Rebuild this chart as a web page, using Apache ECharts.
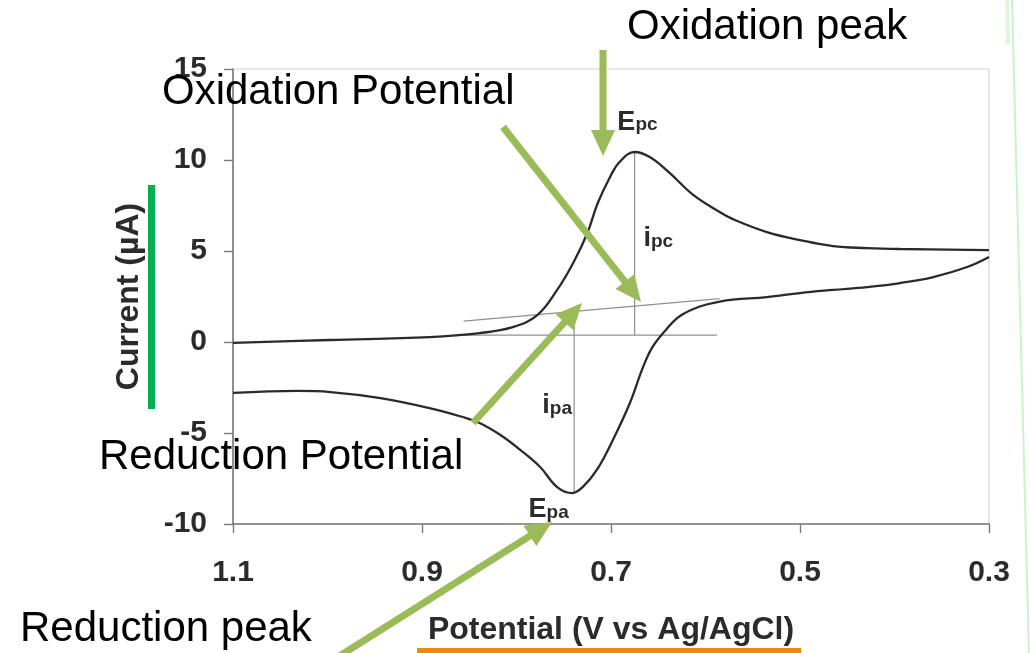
<!DOCTYPE html>
<html><head><meta charset="utf-8">
<script src="https://cdn.jsdelivr.net/npm/echarts@6/dist/echarts.min.js"></script>
<style>html,body{margin:0;padding:0;background:#fff;} #c{width:1030px;height:653px;}</style>
</head><body><div id="c"></div>
<script>
// ---- data ----
const xTicks = [1.1, 0.9, 0.7, 0.5, 0.3];
const yTicks = [-10, -5, 0, 5, 10, 15];
// forward branch (scan 1.1 -> 0.3 V)
const upperV = [1.100, 0.997, 0.892, 0.839, 0.804, 0.778, 0.757, 0.740, 0.725, 0.714, 0.701, 0.691, 0.675, 0.659, 0.638, 0.613, 0.585, 0.571, 0.535, 0.500, 0.465, 0.429, 0.394, 0.300];
const upperI = [-0.05, 0.11, 0.27, 0.49, 0.82, 1.48, 2.86, 4.34, 5.99, 7.64, 9.07, 9.89, 10.44, 10.16, 9.29, 8.08, 7.14, 6.75, 6.04, 5.60, 5.27, 5.16, 5.11, 5.05];
// return branch (scan 0.3 -> 1.1 V)
const lowerV = [0.300, 0.323, 0.359, 0.394, 0.429, 0.465, 0.500, 0.535, 0.571, 0.585, 0.606, 0.627, 0.641, 0.656, 0.666, 0.680, 0.698, 0.715, 0.730, 0.741, 0.757, 0.775, 0.796, 0.817, 0.839, 0.857, 0.892, 0.944, 0.997, 1.032, 1.100];
const lowerI = [4.67, 4.12, 3.57, 3.24, 3.02, 2.86, 2.69, 2.47, 2.33, 2.22, 1.95, 1.43, 0.72, -0.27, -1.37, -3.35, -5.38, -7.03, -7.97, -8.30, -7.97, -6.87, -5.93, -5.11, -4.45, -4.12, -3.63, -3.08, -2.75, -2.69, -2.80];
// construction lines
const baseFlatV = [0.860, 0.588];
const baseFlatI = [0.38, 0.38];
const baseSlopeV = [0.856, 0.585];
const baseSlopeI = [1.15, 2.38];
const epcLineV = [0.675, 0.675];
const epcLineI = [10.44, 0.38];
const epaLineV = [0.739, 0.739];
const epaLineI = [-8.30, 1.67];
// peak labels
const peakMain = ['E', 'i', 'i', 'E'];
const peakSub = ['pc', 'pc', 'pa', 'pa'];
const peakLabelV = [0.672, 0.650, 0.757, 0.766];
const peakLabelI = [12.0, 5.6, -3.6, -9.3];
// annotations
const annotations = ['Oxidation peak', 'Oxidation Potential', 'Reduction Potential', 'Reduction peak'];
const xTitle = 'Potential (V vs Ag/AgCl)';
const yTitle = 'Current (µA)';

// ---- helpers ----
const zip = (a, b) => a.map((v, i) => [v, b[i]]);
const ARROW = '#9BBB59';
function arrow(x1, y1, x2, y2) {
  const dx = x2 - x1, dy = y2 - y1, len = Math.hypot(dx, dy);
  const ux = dx / len, uy = dy / len, nx = -uy, ny = ux;
  const L = 26, W = 12;
  const bx = x2 - ux * L, by = y2 - uy * L;
  return [
    { type: 'line', z: 50, shape: { x1: x1, y1: y1, x2: bx + ux * 2, y2: by + uy * 2 }, style: { stroke: ARROW, lineWidth: 7 } },
    { type: 'polygon', z: 50, shape: { points: [[x2, y2], [bx + nx * W, by + ny * W], [bx - nx * W, by - ny * W]] }, style: { fill: ARROW } }
  ];
}
const annoPos = [[627, 27], [162, 92], [99, 457], [20, 629]];
const graphics = [];
annotations.forEach((t, i) => {
  graphics.push({ type: 'text', z: 60, x: annoPos[i][0], y: annoPos[i][1],
    style: { text: t, font: '42px "Liberation Sans", Arial, sans-serif', fill: '#000', align: 'left', verticalAlign: 'middle',
      shadowColor: 'rgba(0,0,0,0.35)', shadowBlur: 3, shadowOffsetX: 2, shadowOffsetY: 2 } });
});
graphics.push(...arrow(603, 50, 603, 156));
graphics.push(...arrow(503, 127, 641, 302));
graphics.push(...arrow(473, 423, 582, 303));
graphics.push(...arrow(330, 662, 552, 522));
graphics.push({ type: 'rect', z: 40, shape: { x: 148, y: 185, width: 7, height: 224 }, style: { fill: '#00B050' } });
graphics.push({ type: 'rect', z: 40, shape: { x: 417, y: 648, width: 384, height: 6 }, style: { fill: '#EB8A12' } });
graphics.push({ type: 'line', z: 1, shape: { x1: 1012, y1: 0, x2: 1029, y2: 653 }, style: { stroke: '#c9f3c9', lineWidth: 2 } });
graphics.push({ type: 'line', z: 1, shape: { x1: 1007, y1: 0, x2: 1008, y2: 44 }, style: { stroke: '#dcf7dc', lineWidth: 4 } });

const helperLine = (v, i) => ({ type: 'line', data: zip(v, i), symbol: 'none', silent: true,
  lineStyle: { color: '#8f8f8f', width: 1.2 }, z: 2 });
const lbl = { fontFamily: '"Liberation Sans", Arial, sans-serif', fontWeight: 'bold', color: '#2b2b2b' };

const option = {
  animation: false,
  backgroundColor: '#fff',
  grid: { left: 233, right: 41, top: 69, bottom: 129, containLabel: false, outerBoundsMode: 'none',
    show: true, borderColor: '#d4d4d4', borderWidth: 1.2 },
  xAxis: {
    type: 'value', min: 0.3, max: 1.1, inverse: true,
    name: xTitle, nameLocation: 'middle', nameGap: 90,
    nameTextStyle: Object.assign({ fontSize: 32 }, lbl),
    axisLine: { show: true, onZero: false, lineStyle: { color: '#7a7a7a', width: 1.6 } },
    axisTick: { show: true, length: 9, customValues: xTicks, lineStyle: { color: '#7a7a7a', width: 1.4 } },
    axisLabel: Object.assign({ fontSize: 30, margin: 34, customValues: xTicks, formatter: v => v.toFixed(1) }, lbl),
    splitLine: { show: false }
  },
  yAxis: {
    type: 'value', min: -10, max: 15, interval: 5,
    name: yTitle, nameLocation: 'middle', nameGap: 88,
    nameTextStyle: Object.assign({ fontSize: 32 }, lbl),
    axisLine: { show: true, onZero: false, lineStyle: { color: '#7a7a7a', width: 1.6 } },
    axisTick: { show: true, length: 9, lineStyle: { color: '#7a7a7a', width: 1.4 } },
    axisLabel: Object.assign({ fontSize: 30, margin: 26 }, lbl),
    splitLine: { show: false }
  },
  series: [
    helperLine(baseFlatV, baseFlatI),
    helperLine(baseSlopeV, baseSlopeI),
    helperLine(epcLineV, epcLineI),
    helperLine(epaLineV, epaLineI),
    { type: 'line', data: zip(upperV, upperI), symbol: 'none', smooth: 0.4, z: 5,
      lineStyle: { color: '#2a2a2a', width: 2.3 } },
    { type: 'line', data: zip(lowerV, lowerI), symbol: 'none', smooth: 0.4, z: 5,
      lineStyle: { color: '#2a2a2a', width: 2.3 } },
    { type: 'scatter', symbolSize: 0, z: 10, silent: true, itemStyle: { opacity: 1 },
      data: peakLabelV.map((v, i) => [v, peakLabelI[i]]),
      label: { show: true, position: 'inside', opacity: 1,
        formatter: p => '{m|' + peakMain[p.dataIndex] + '}{s|' + peakSub[p.dataIndex] + '}',
        rich: {
          m: Object.assign({ fontSize: 27, lineHeight: 30, verticalAlign: 'top' }, lbl),
          s: Object.assign({ fontSize: 19, lineHeight: 30, verticalAlign: 'top', padding: [7, 0, 0, 0] }, lbl)
        } } }
  ],
  graphic: graphics
};
const chart = echarts.init(document.getElementById('c'), null, { renderer: 'canvas' });
chart.setOption(option);
</script>
</body></html>
